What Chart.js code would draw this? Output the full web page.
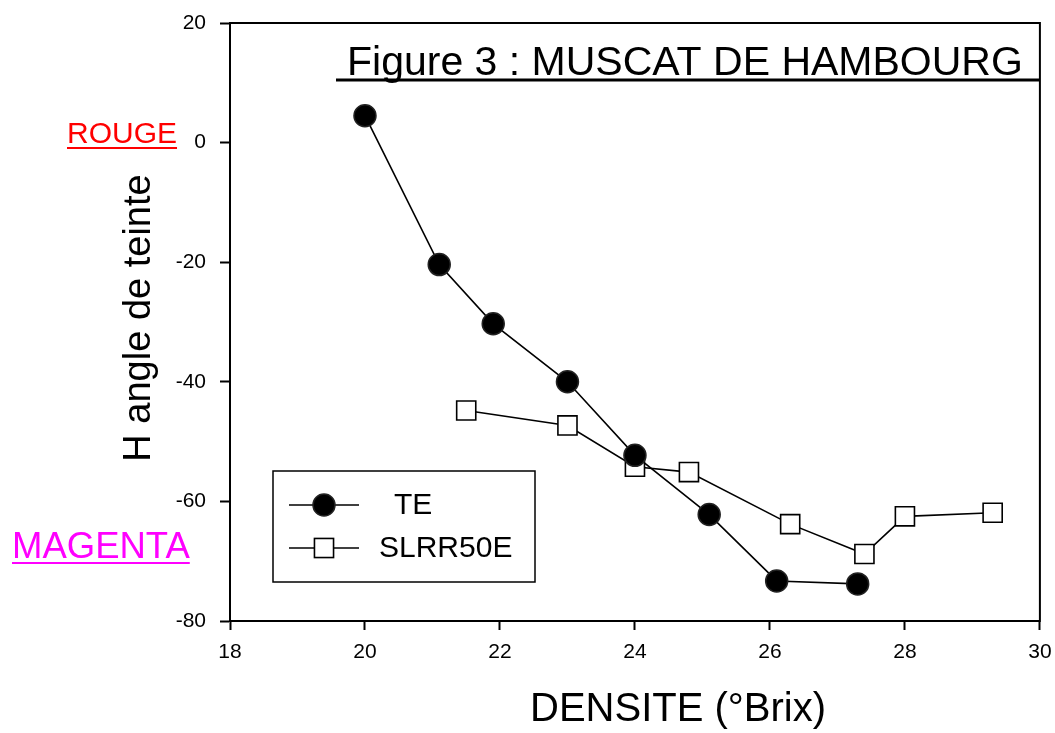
<!DOCTYPE html>
<html>
<head>
<meta charset="utf-8">
<script src="https://cdn.jsdelivr.net/npm/chart.js@4/dist/chart.umd.min.js"></script>
<style>
  html, body { margin: 0; padding: 0; background: #ffffff; }
  #wrap { width: 1055px; height: 733px; position: relative; }
</style>
</head>
<body>
<div id="wrap"><canvas id="c" width="1055" height="733"></canvas></div>
<script>
// Hue angle vs sugar density, two treatments
const teBrix = [20.0, 21.1, 21.9, 23.0, 24.0, 25.1, 26.1, 27.3];
const teHue = [4.5, -20.4, -30.3, -40.0, -52.3, -62.2, -73.3, -73.8];
const slrrBrix = [21.5, 23.0, 24.0, 24.8, 26.3, 27.4, 28.0, 29.3];
const slrrHue = [-44.8, -47.3, -54.2, -55.1, -63.8, -68.8, -62.5, -61.9];
const seriesNames = ['TE', 'SLRR50E'];
const xTicks = [18, 20, 22, 24, 26, 28, 30];
const yTicks = [20, 0, -20, -40, -60, -80];

const FONT = '"Liberation Sans", Arial, Helvetica, sans-serif';

const toPoints = (xs, ys) => xs.map((x, i) => ({ x: x, y: ys[i] }));

// Frame, titles, colour hints and the boxed legend
const decorations = {
  id: 'decorations',
  afterDraw(chart) {
    const ctx = chart.ctx;
    const a = chart.chartArea;
    ctx.save();

    // plot frame
    ctx.strokeStyle = '#000';
    ctx.lineWidth = 2;
    ctx.strokeRect(a.left, a.top, a.right - a.left, a.bottom - a.top);

    // figure title with underline
    ctx.fillStyle = '#000';
    ctx.font = '41px ' + FONT;
    ctx.textAlign = 'left';
    ctx.textBaseline = 'alphabetic';
    ctx.fillText('Figure 3 : MUSCAT DE HAMBOURG', 347, 75);
    ctx.lineWidth = 3;
    ctx.beginPath();
    ctx.moveTo(336, 80);
    ctx.lineTo(a.right, 80);
    ctx.stroke();

    // axis titles
    ctx.font = '40px ' + FONT;
    ctx.textAlign = 'center';
    ctx.fillText('DENSITE (°Brix)', 678, 721);
    ctx.save();
    ctx.translate(150, 318);
    ctx.rotate(-Math.PI / 2);
    ctx.font = '38px ' + FONT;
    ctx.fillText('H angle de teinte', 0, 0);
    ctx.restore();

    // colour hints
    const hint = (text, x, y, size, color) => {
      ctx.font = size + 'px ' + FONT;
      ctx.textAlign = 'left';
      ctx.fillStyle = color;
      ctx.fillText(text, x, y);
      const w = ctx.measureText(text).width;
      ctx.strokeStyle = color;
      ctx.lineWidth = 2;
      ctx.beginPath();
      ctx.moveTo(x, y + 5);
      ctx.lineTo(x + w, y + 5);
      ctx.stroke();
    };
    hint('ROUGE', 67, 143, 30, '#ff0000');
    hint('MAGENTA', 12, 558, 36.5, '#ff00ff');

    // legend box
    ctx.strokeStyle = '#000';
    ctx.lineWidth = 1.5;
    ctx.strokeRect(273, 471, 262, 111);
    const rows = [505, 548];
    const textX = [394, 379];
    chart.data.datasets.forEach((ds, i) => {
      const y = rows[i];
      ctx.strokeStyle = ds.borderColor;
      ctx.lineWidth = ds.borderWidth;
      ctx.beginPath();
      ctx.moveTo(289, y);
      ctx.lineTo(359, y);
      ctx.stroke();
      ctx.fillStyle = ds.pointBackgroundColor;
      ctx.strokeStyle = ds.pointBorderColor;
      ctx.lineWidth = ds.pointBorderWidth;
      if (ds.pointStyle === 'rect') {
        const h = Math.SQRT1_2 * ds.pointRadius;
        ctx.fillRect(324 - h, y - h, 2 * h, 2 * h);
        ctx.strokeRect(324 - h, y - h, 2 * h, 2 * h);
      } else {
        ctx.beginPath();
        ctx.arc(324, y, ds.pointRadius, 0, Math.PI * 2);
        ctx.fill();
        ctx.stroke();
      }
      ctx.fillStyle = '#000';
      ctx.font = '30px ' + FONT;
      ctx.textAlign = 'left';
      ctx.textBaseline = 'middle';
      ctx.fillText(ds.label, textX[i], y + 1);
      ctx.textBaseline = 'alphabetic';
    });

    ctx.restore();
  }
};

new Chart(document.getElementById('c'), {
  type: 'scatter',
  data: {
    datasets: [
      {
        label: seriesNames[0],
        data: toPoints(teBrix, teHue),
        showLine: true,
        borderColor: '#000',
        borderWidth: 1.6,
        pointStyle: 'circle',
        pointRadius: 11,
        pointHoverRadius: 11,
        pointBackgroundColor: '#000',
        pointBorderColor: '#222',
        pointBorderWidth: 1.5
      },
      {
        label: seriesNames[1],
        data: toPoints(slrrBrix, slrrHue),
        showLine: true,
        borderColor: '#000',
        borderWidth: 1.6,
        pointStyle: 'rect',
        pointRadius: 13.5,
        pointHoverRadius: 13.5,
        pointBackgroundColor: '#fff',
        pointBorderColor: '#000',
        pointBorderWidth: 1.6
      }
    ]
  },
  options: {
    responsive: false,
    animation: false,
    events: [],
    layout: { padding: { left: 0, top: 23, right: 11, bottom: 0 } },
    plugins: {
      legend: { display: false },
      title: { display: false },
      tooltip: { enabled: false }
    },
    scales: {
      x: {
        type: 'linear',
        min: 18,
        max: 30,
        afterFit(scale) {
          scale.height = 112;
          scale.paddingLeft = 0;
          scale.paddingRight = 0;
        },
        afterBuildTicks(scale) { scale.ticks = xTicks.map(v => ({ value: v })); },
        grid: {
          drawOnChartArea: false,
          drawTicks: true,
          tickLength: 9,
          tickWidth: 2,
          color: '#000'
        },
        border: { display: true, color: '#000', width: 2 },
        ticks: {
          color: '#000',
          padding: 10,
          font: { family: FONT, size: 21 },
          maxRotation: 0
        }
      },
      y: {
        type: 'linear',
        min: -80,
        max: 20,
        afterFit(scale) {
          scale.width = 230;
          scale.paddingTop = 0;
          scale.paddingBottom = 0;
        },
        afterBuildTicks(scale) { scale.ticks = yTicks.map(v => ({ value: v })); },
        grid: {
          drawOnChartArea: false,
          drawTicks: true,
          tickLength: 10,
          tickWidth: 2,
          color: '#000'
        },
        border: { display: true, color: '#000', width: 2 },
        ticks: {
          color: '#000',
          padding: 14,
          font: { family: FONT, size: 21 }
        }
      }
    }
  },
  plugins: [decorations]
});
</script>
</body>
</html>
